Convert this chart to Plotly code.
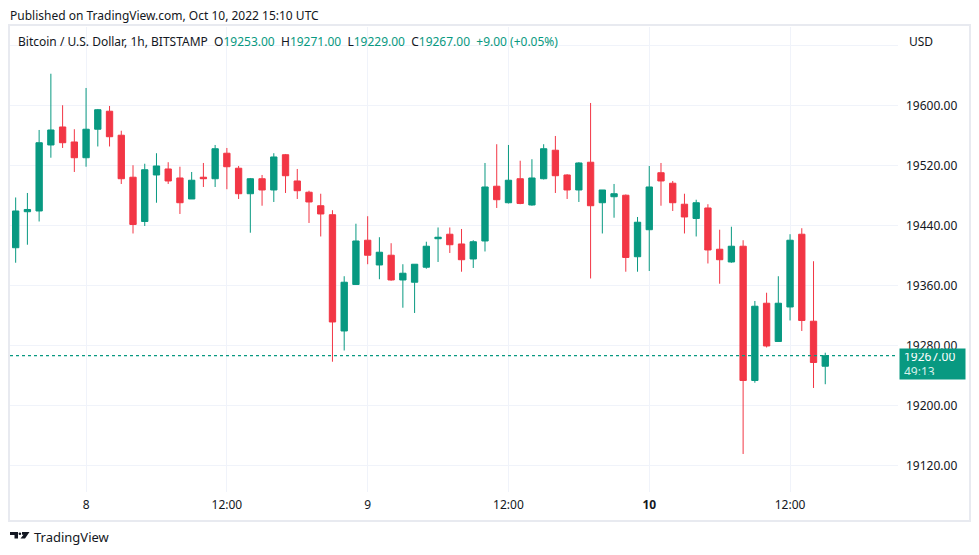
import pandas as pd
import plotly.graph_objects as go

# BTC/USD 1h, Bitstamp - Oct 7 18:00 -> Oct 10 15:00 (UTC)
start_time = "2022-10-07 18:00"
open_ = [19411, 19459, 19460, 19548, 19572, 19552, 19531, 19569, 19593, 19561,
         19505, 19446, 19508, 19516, 19504, 19476, 19505, 19503, 19537, 19517,
         19483, 19503, 19488, 19535, 19500, 19485, 19467, 19455, 19300, 19362,
         19421, 19388, 19401, 19368, 19365, 19385, 19423, 19429, 19416, 19396,
         19420, 19493, 19471, 19503, 19468, 19503, 19541, 19508, 19488, 19525,
         19471, 19479, 19481, 19399, 19435, 19511, 19497, 19469, 19450, 19464,
         19409, 19392, 19413, 19234, 19337, 19286, 19332, 19429, 19313, 19253]
high = [19478, 19484, 19568, 19643, 19601, 19569, 19624, 19596, 19600, 19567,
        19521, 19523, 19537, 19525, 19519, 19512, 19524, 19548, 19544, 19520,
        19504, 19508, 19537, 19536, 19516, 19487, 19483, 19461, 19373, 19443,
        19453, 19425, 19417, 19389, 19389, 19419, 19438, 19438, 19436, 19421,
        19524, 19549, 19548, 19527, 19529, 19549, 19560, 19509, 19525, 19604,
        19488, 19496, 19482, 19452, 19520, 19524, 19500, 19483, 19475, 19469,
        19435, 19439, 19421, 19340, 19351, 19373, 19429, 19437, 19393, 19271]
low = [19391, 19415, 19446, 19531, 19544, 19512, 19519, 19546, 19546, 19496,
       19430, 19440, 19471, 19496, 19456, 19476, 19492, 19492, 19489, 19476,
       19431, 19467, 19472, 19484, 19476, 19444, 19426, 19259, 19274, 19362,
       19389, 19369, 19367, 19331, 19324, 19383, 19392, 19404, 19379, 19384,
       19406, 19464, 19470, 19469, 19467, 19502, 19484, 19476, 19472, 19370,
       19430, 19451, 19379, 19379, 19380, 19467, 19460, 19430, 19426, 19390,
       19363, 19391, 19136, 19231, 19278, 19286, 19314, 19300, 19224, 19229]
close = [19460, 19462, 19551, 19568, 19551, 19531, 19569, 19595, 19559, 19503,
         19442, 19515, 19520, 19500, 19471, 19501, 19503, 19543, 19519, 19483,
         19503, 19488, 19532, 19507, 19487, 19472, 19456, 19312, 19365, 19420,
         19401, 19405, 19368, 19377, 19389, 19413, 19425, 19415, 19395, 19419,
         19492, 19475, 19501, 19470, 19504, 19543, 19507, 19488, 19524, 19467,
         19488, 19483, 19398, 19445, 19492, 19500, 19471, 19452, 19471, 19408,
         19395, 19413, 19234, 19333, 19280, 19337, 19421, 19314, 19258, 19267]

x_ticks = ["2022-10-08 00:00", "2022-10-08 12:00", "2022-10-09 00:00",
           "2022-10-09 12:00", "2022-10-10 00:00", "2022-10-10 12:00"]
x_labels = ["8", "12:00", "9", "12:00", "<b>10</b>", "12:00"]
y_ticks = [19120, 19200, 19280, 19360, 19440, 19520, 19600, 19680]
y_labels = ["19120.00", "19200.00", "19280.00", "19360.00", "19440.00",
            "19520.00", "19600.00", ""]
countdown = "49:13"

GREEN = "#089981"
RED = "#f23645"
TEXT = "#131722"
GRID = "#f0f3fa"
FONT = "Noto Sans"

times = pd.date_range(start_time, periods=len(close), freq="h")
last_price = close[-1]

# the page body has an 8px margin, so the figure is drawn 8px smaller
OFF = 8
W, H = 979 - OFF, 555 - OFF
# plot area in screen pixels (left, right, top, bottom)
L, R, T, B = 10, 898, 27, 492


def px(x):
    return (x - L) / (R - L)


def py(y):
    return (B - y) / (B - T)


fig = go.Figure()
fig.add_trace(go.Candlestick(
    x=times, open=open_, high=high, low=low, close=close,
    increasing=dict(line=dict(color=GREEN, width=1), fillcolor=GREEN),
    decreasing=dict(line=dict(color=RED, width=1), fillcolor=RED),
    whiskerwidth=0, showlegend=False,
))

fig.update_layout(
    width=W, height=H,
    margin=dict(l=L - OFF, r=979 - R, t=T - OFF, b=555 - B, autoexpand=False),
    paper_bgcolor="white", plot_bgcolor="white",
    font=dict(family=FONT, size=12, color=TEXT),
    boxgap=0.23,
    xaxis=dict(
        type="date", range=["2022-10-07 17:31", "2022-10-10 21:12"],
        rangeslider=dict(visible=False),
        tickvals=x_ticks, ticktext=x_labels,
        showgrid=True, gridcolor=GRID, gridwidth=1,
        showline=False, zeroline=False, ticks="",
        ticklabelstandoff=4, automargin=False,
        tickfont=dict(size=12, color=TEXT),
    ),
    yaxis=dict(
        side="right", range=[19085.3, 19705.3],
        tickvals=y_ticks, ticktext=y_labels,
        showgrid=True, gridcolor=GRID, gridwidth=1,
        showline=False, zeroline=False, ticks="",
        ticklabelstandoff=7, automargin=False,
        tickfont=dict(size=12, color=TEXT),
    ),
    hovermode=False,
)

# last price dotted line
fig.add_shape(type="line", xref="paper", yref="y", x0=0, x1=1,
              y0=last_price, y1=last_price,
              line=dict(color=GREEN, width=1.2, dash="dot"))

# outer frame
fig.add_shape(type="rect", xref="paper", yref="paper",
              x0=px(9), x1=px(970), y0=py(521), y1=py(25),
              line=dict(color="#e8eaf0", width=2), layer="above")

# last price label
fig.add_annotation(
    xref="paper", yref="y", x=px(899), y=last_price,
    xanchor="left", yanchor="top", yshift=8,
    text=f"{last_price:.2f}<br><span style='color:#d6f0ea'>{countdown}</span>",
    align="left",
    font=dict(color="white", size=12, family=FONT),
    bgcolor=GREEN, borderpad=4, width=57, height=22, showarrow=False,
)

fig.add_annotation(
    xref="paper", yref="paper", x=px(907), y=py(41),
    xanchor="left", yanchor="middle",
    text="USD", showarrow=False, font=dict(size=12, color=TEXT),
)

change = close[-1] - close[-2]
pct = change / close[-2] * 100
header = (
    "Bitcoin / U.S. Dollar, 1h, BITSTAMP  "
    f"O<span style='color:{GREEN}'>{open_[-1]:.2f}</span>  "
    f"H<span style='color:{GREEN}'>{high[-1]:.2f}</span>  "
    f"L<span style='color:{GREEN}'>{low[-1]:.2f}</span>  "
    f"C<span style='color:{GREEN}'>{close[-1]:.2f}</span>  "
    f"<span style='color:{GREEN}'>{change:+.2f} ({pct:+.2f}%)</span>"
)
fig.add_annotation(
    xref="paper", yref="paper", x=px(16), y=py(41),
    xanchor="left", yanchor="middle",
    text=header, showarrow=False, font=dict(size=12, color=TEXT),
)

fig.add_annotation(
    xref="paper", yref="paper", x=px(8), y=py(16),
    xanchor="left", yanchor="middle",
    text="Published on TradingView.com, Oct 10, 2022 15:10 UTC",
    showarrow=False, font=dict(size=12, color=TEXT),
)

# TradingView logo (rough) + wordmark
logo = [
    [(10, 532), (18, 532), (18, 538.5), (14.5, 538.5), (14.5, 535), (10, 535)],
    [(22, 532), (29.5, 532), (25, 538.5), (20.5, 538.5), (23.5, 534.8), (22, 534.8)],
]
for poly in logo:
    path = "M " + " L ".join(f"{px(x)},{py(y)}" for x, y in poly) + " Z"
    fig.add_shape(type="path", xref="paper", yref="paper", path=path,
                  fillcolor=TEXT, line=dict(width=0))
fig.add_shape(type="circle", xref="paper", yref="paper",
              x0=px(18.6), x1=px(21.2), y0=py(535), y1=py(532.4),
              fillcolor=TEXT, line=dict(width=0))
fig.add_annotation(
    xref="paper", yref="paper", x=px(32), y=py(537),
    xanchor="left", yanchor="middle",
    text="TradingView", showarrow=False,
    font=dict(size=13, color=TEXT),
)

fig.write_html("out.html")
